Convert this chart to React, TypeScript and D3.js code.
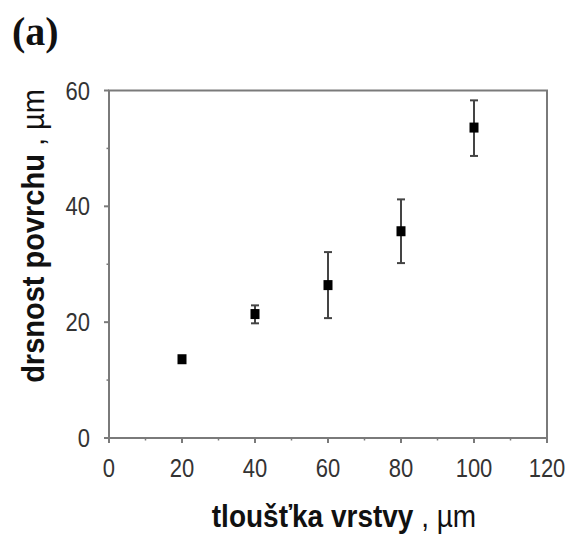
import React from "react";
import * as d3 from "d3";

const thickness = [20, 40, 60, 80, 100];
const roughness = [13.6, 21.4, 26.4, 35.7, 53.6];
const errLow = [13.6, 19.8, 20.7, 30.2, 48.7];
const errHigh = [13.6, 22.9, 32.1, 41.2, 58.3];
const xTicks = [0, 20, 40, 60, 80, 100, 120];
const yTicks = [0, 20, 40, 60];
const xMinor = [10, 30, 50, 70, 90, 110];
const yMinor = [10, 30, 50];

const W = 569;
const H = 536;
const x = d3.scaleLinear().domain([0, 120]).range([109, 547]);
const y = d3.scaleLinear().domain([0, 60]).range([438, 90.5]);

export default function App() {
  const frame = "#7a7a7a";
  const font = "'Liberation Sans', Arial, sans-serif";
  const st = (cy: number, sy: number) => `translate(0,${cy}) scale(1,${sy}) translate(0,${-cy})`;
  return (
    <svg width={W} height={H} style={{ position: "absolute", left: 0, top: 0 }}>
      <rect width={W} height={H} fill="#fff" />
      <text x={12} y={45} fontFamily="'Liberation Serif', 'Times New Roman', serif" fontWeight="bold" fontSize={40} fill="#111">(a)</text>
      {/* frame */}
      <rect x={x(0)} y={y(60)} width={x(120) - x(0)} height={y(0) - y(60)} fill="none" stroke={frame} strokeWidth={2} />
      {/* y ticks */}
      {yTicks.map((t) => (
        <g key={"y" + t}>
          <line x1={x(0) - 5} x2={x(0)} y1={y(t)} y2={y(t)} stroke={frame} strokeWidth={2} />
          <text x={90} y={y(t)} dy="0.36em" textAnchor="end" fontFamily={font} fontSize={22} fill="#333" transform={st(y(t), 1.15)}>{t}</text>
        </g>
      ))}
      {yMinor.map((t) => (
        <line key={"ym" + t} x1={x(0) - 2.5} x2={x(0)} y1={y(t)} y2={y(t)} stroke={frame} strokeWidth={1.5} />
      ))}
      {/* x ticks */}
      {xTicks.map((t) => (
        <g key={"x" + t}>
          <line x1={x(t)} x2={x(t)} y1={y(0)} y2={y(0) + 5} stroke={frame} strokeWidth={2} />
          <text x={x(t)} y={468} dy="0.36em" textAnchor="middle" fontFamily={font} fontSize={22} fill="#333" transform={st(468, 1.15)}>{t}</text>
        </g>
      ))}
      {xMinor.map((t) => (
        <line key={"xm" + t} x1={x(t)} x2={x(t)} y1={y(0)} y2={y(0) + 2.5} stroke={frame} strokeWidth={1.5} />
      ))}
      {/* error bars */}
      {thickness.map((t, i) => (
        <g key={"e" + t} stroke="#444" strokeWidth={2}>
          <line x1={x(t)} x2={x(t)} y1={y(errLow[i])} y2={y(errHigh[i])} />
          <line x1={x(t) - 4} x2={x(t) + 4} y1={y(errLow[i])} y2={y(errLow[i])} />
          <line x1={x(t) - 4} x2={x(t) + 4} y1={y(errHigh[i])} y2={y(errHigh[i])} />
        </g>
      ))}
      {/* markers */}
      {thickness.map((t, i) => (
        <rect key={"m" + t} x={x(t) - 4.5} y={y(roughness[i]) - 5} width={9} height={10} fill="#000" />
      ))}
      {/* axis titles */}
      <text x={344} y={527} textAnchor="middle" fontFamily={font} fontSize={28} fill="#111" transform={st(527, 1.15)}>
        <tspan fontWeight="bold">tloušťka vrstvy</tspan>
        <tspan> , µm</tspan>
      </text>
      <g transform="translate(44,236) rotate(-90)">
        <text x={0} y={0} textAnchor="middle" fontFamily={font} fontSize={29} fill="#111" transform="scale(1,1.1)">
          <tspan fontWeight="bold">drsnost povrchu</tspan>
          <tspan> , µm</tspan>
        </text>
      </g>
    </svg>
  );
}
